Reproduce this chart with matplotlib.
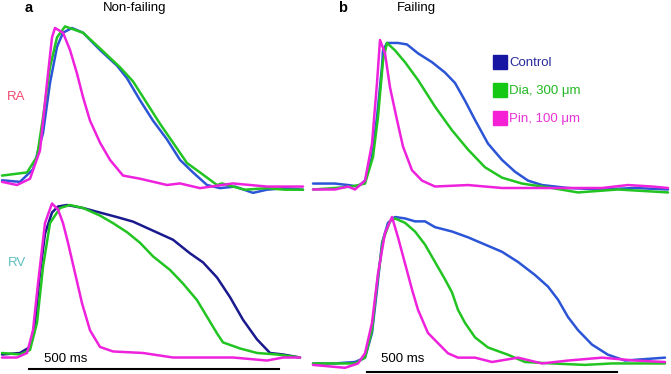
import matplotlib
matplotlib.use("Agg")
import matplotlib.pyplot as plt
from matplotlib.lines import Line2D

plt.rcParams['font.family'] = ['Liberation Sans', 'DejaVu Sans']

# action potentials: (time in ms, amplitude in % of peak)
ra_nf_control = [(4, 3), (40, 2), (66, 10), (86, 33), (100, 65), (114, 88), (126, 97), (144, 100),
                 (166, 97), (200, 86), (234, 76), (254, 68), (280, 54), (306, 41), (334, 29),
                 (360, 16), (386, 8), (414, 0), (440, -2), (470, -1), (506, -5), (534, -3), (570, -2), (606, -3)]
ra_nf_dia = [(4, 6), (54, 8), (74, 18), (86, 43), (100, 75), (114, 94), (130, 101), (166, 97),
             (200, 87), (240, 75), (266, 66), (294, 52), (320, 39), (346, 27), (374, 14), (400, 8),
             (434, 0), (444, 1), (466, -1), (490, -3), (534, -2), (570, -3), (606, -3)]
ra_nf_pin = [(4, 2), (34, 0), (60, 4), (80, 22), (94, 65), (104, 94), (110, 100), (126, 97),
             (140, 86), (154, 71), (166, 56), (180, 41), (200, 27), (220, 16), (246, 6), (280, 4),
             (334, 0), (360, 1), (400, -2), (466, 1), (534, -1), (606, -1)]

ra_f_control = [(2, 3), (46, 3), (72, 2), (92, 1), (106, 5), (120, 21), (130, 48), (140, 82),
                (142, 93), (150, 98), (172, 98), (190, 97), (212, 91), (240, 85), (266, 78),
                (286, 71), (306, 59), (326, 46), (352, 30), (380, 19), (406, 11), (432, 5),
                (460, 2), (512, 0), (580, -1), (646, 0), (712, -1)]
ra_f_dia = [(2, -1), (46, 0), (80, 1), (106, 3), (122, 21), (132, 48), (142, 86), (150, 98),
            (166, 93), (186, 85), (212, 73), (246, 55), (280, 39), (312, 26), (346, 14), (380, 7),
            (420, 3), (480, 0), (532, -3), (612, -1), (712, -3)]
ra_f_pin = [(2, -1), (46, -1), (72, 1), (86, -1), (106, 5), (120, 30), (130, 71), (136, 100),
            (146, 91), (156, 68), (170, 46), (182, 28), (200, 12), (220, 5), (246, 1), (312, 2),
            (380, 0), (446, 0), (512, 0), (580, 0), (632, 2), (680, 1), (712, 0)]

rv_nf_control = [(4, 1), (40, 2), (60, 6), (70, 22), (80, 55), (90, 81), (104, 95), (116, 99),
                 (134, 100), (166, 98), (200, 95), (234, 92), (266, 89), (306, 83), (346, 77),
                 (380, 68), (406, 62), (434, 52), (460, 39), (486, 24), (514, 11), (540, 2),
                 (566, 1), (600, -1)]
rv_nf_dia = [(4, 2), (40, 1), (60, 4), (74, 22), (86, 59), (100, 88), (120, 98), (140, 100),
             (166, 98), (200, 93), (226, 88), (254, 82), (280, 75), (306, 66), (340, 57),
             (366, 48), (394, 37), (414, 26), (434, 15), (446, 9), (480, 5), (514, 2), (554, 1), (600, -1)]
rv_nf_pin = [(4, -1), (34, -1), (54, 2), (66, 17), (76, 48), (90, 88), (104, 101), (116, 97),
             (126, 88), (136, 75), (150, 55), (164, 35), (180, 17), (200, 6), (226, 3), (286, 2),
             (346, -1), (400, -1), (466, -1), (534, -3), (566, -1), (600, -1)]

rv_f_control = [(2, -1), (46, -1), (86, 0), (106, 3), (120, 20), (130, 50), (140, 82), (152, 96),
                (166, 100), (186, 99), (206, 97), (226, 97), (246, 93), (280, 90), (312, 86),
                (346, 81), (380, 76), (412, 69), (446, 60), (472, 52), (492, 43), (512, 31),
                (532, 22), (560, 12), (592, 5), (626, 1), (706, 3)]
rv_f_dia = [(2, -1), (46, -1), (86, -1), (106, 3), (120, 22), (130, 54), (142, 84), (156, 97),
            (166, 99), (186, 96), (206, 90), (226, 81), (246, 69), (266, 57), (280, 48), (292, 36),
            (306, 27), (326, 17), (352, 10), (392, 5), (426, 0), (480, -1), (546, -2), (600, -1), (706, -1)]
rv_f_pin = [(2, -2), (66, -4), (92, -1), (106, 6), (120, 27), (132, 61), (146, 89), (160, 100),
            (172, 86), (186, 68), (200, 50), (212, 36), (232, 20), (252, 13), (272, 6), (292, 3),
            (326, 3), (360, 0), (412, 3), (460, -1), (512, 1), (580, 3), (646, 1), (706, 0)]

labels = ['Control', 'Dia, 300 \u03bcm', 'Pin, 100 \u03bcm']
scale_ms = 500

# layout (figure pixels)
W, H = 671, 374
MS_PER_PX = 2.0
blue = '#2b55d6'
navy = '#1a1a8e'
green = '#22c422'
magenta = '#ee22dd'

fig = plt.figure(figsize=(W / 100, H / 100), dpi=100)


def panel(x0, base, peak):
    ax = fig.add_axes([0, 0, 1, 1])
    ax.patch.set_alpha(0)
    ax.axis('off')
    k = 100 / (base - peak)
    ax.set_xlim(-x0 * MS_PER_PX, (W - x0) * MS_PER_PX)
    ax.set_ylim((base - H) * k, base * k)
    return ax


def trace(ax, data, color):
    t, v = zip(*data)
    ax.plot(t, v, color=color, lw=1.8, solid_joinstyle='round', solid_capstyle='round')


ax_ra_nf = panel(0, 185, 28)
ax_ra_f = panel(312, 188, 40)
ax_rv_nf = panel(0, 356, 205)
ax_rv_f = panel(312, 362, 217)

for ax, series, cblue in [(ax_ra_nf, (ra_nf_control, ra_nf_dia, ra_nf_pin), blue),
                          (ax_ra_f, (ra_f_control, ra_f_dia, ra_f_pin), blue),
                          (ax_rv_nf, (rv_nf_control, rv_nf_dia, rv_nf_pin), navy),
                          (ax_rv_f, (rv_f_control, rv_f_dia, rv_f_pin), blue)]:
    for data, col in zip(series, (cblue, green, magenta)):
        trace(ax, data, col)

# scale bars
ax_rv_nf.plot([58, 58 + scale_ms], [-8.6, -8.6], color='black', lw=1.5)
ax_rv_nf.text(88, -2, f'{scale_ms} ms', fontsize=9.5, va='center', ha='left')
ax_rv_f.plot([110, 110 + scale_ms], [-7.2, -7.2], color='black', lw=1.5)
ax_rv_f.text(138, 2, f'{scale_ms} ms', fontsize=9.5, va='center', ha='left')

# titles and row labels
fig.text(25 / W, 1 - 8 / H, 'a', fontsize=10.5, fontweight='bold', va='center')
fig.text(103 / W, 1 - 8 / H, 'Non-failing', fontsize=9.5, va='center')
fig.text(338 / W, 1 - 8 / H, 'b', fontsize=10.5, fontweight='bold', va='center')
fig.text(397 / W, 1 - 8 / H, 'Failing', fontsize=9.5, va='center')
fig.text(7 / W, 1 - 97 / H, 'RA', fontsize=9.5, color='#f04a6e', va='center')
fig.text(8 / W, 1 - 263 / H, 'RV', fontsize=9.5, color='#5cc0c0', va='center')

handles = [Line2D([], [], ls='none', marker='s', markersize=10.5, color=c)
           for c in ('#1616a2', '#14c814', '#f422d4')]
fig.legend(handles, labels, loc='upper left', bbox_to_anchor=(493 / W, 1 - 57 / H),
           frameon=False, fontsize=9.5, handlelength=1.0, handletextpad=0.25,
           labelspacing=1.2, borderpad=0, borderaxespad=0,
           labelcolor=['#2a2a9e', '#22b822', '#e833d8'])

fig.savefig('out.png', dpi=100)
